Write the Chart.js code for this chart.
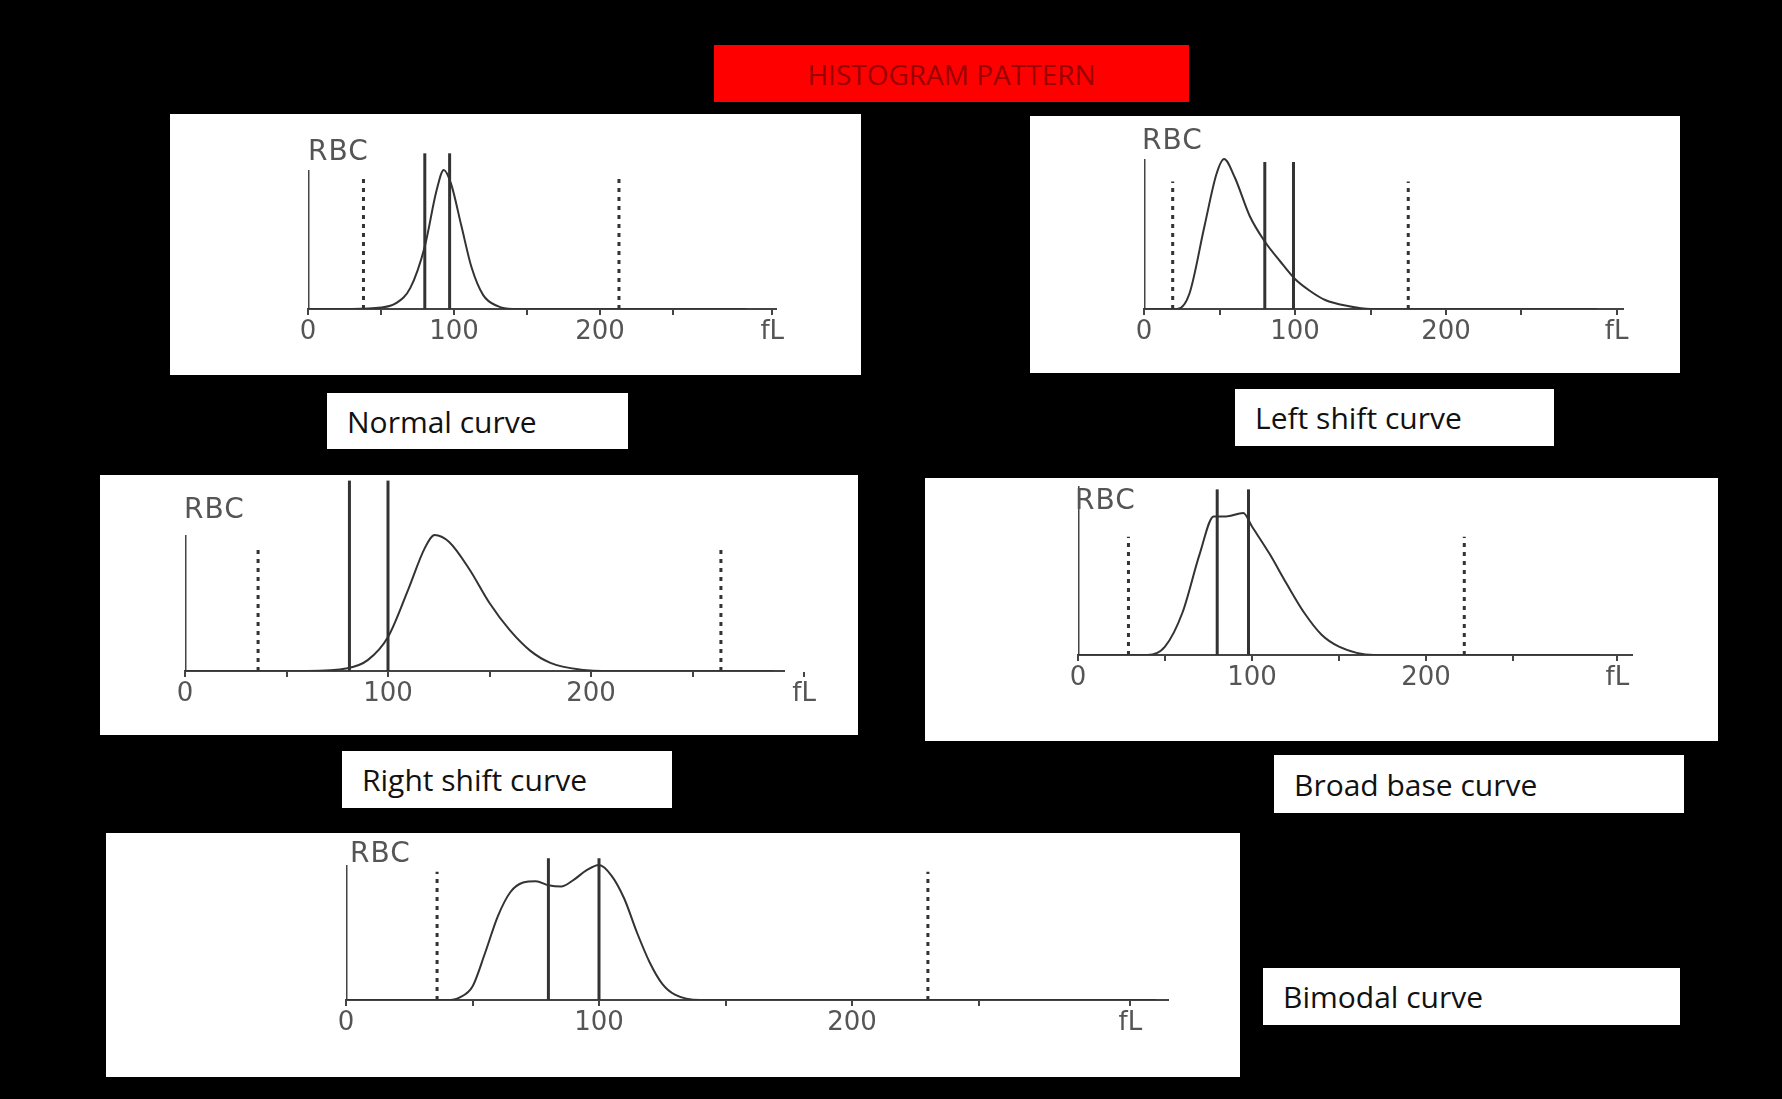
<!DOCTYPE html>
<html><head><meta charset="utf-8">
<script src="https://cdn.jsdelivr.net/npm/chart.js@4"></script>
<style>
body{margin:0;background:#000;width:1782px;height:1099px;overflow:hidden;font-family:"Open Sans",sans-serif;position:relative}
.panel{position:absolute;background:#fff}
.lab{position:absolute;background:#fff;color:#111;font-size:30px;display:flex;align-items:center;padding-left:20px;box-sizing:border-box}
.rbc{position:absolute;font-family:"DejaVu Sans",sans-serif;color:#555;font-size:28px;letter-spacing:1px}
#title{position:absolute;left:714px;top:45px;width:475px;height:57px;background:#f00;color:#900;font-size:28px;display:flex;align-items:center;justify-content:center}
</style></head><body>
<div id="title">HISTOGRAM PATTERN</div>
<script>
// ---- data (x = cell volume in fL, y = relative count) ----
const tickValues = [0, 50, 100, 150, 200, 250];
const tickLabels = ['0', '', '100', '', '200', ''];

const normalX = [0, 30, 50, 60, 70, 80, 88, 93, 98, 105, 112, 120, 130, 140, 300];
const normalY = [0, 0, 1, 4, 15, 45, 85, 100, 90, 60, 30, 10, 2, 0, 0];
const normalDashed = [38, 213];
const normalSolid = [80, 97];

const leftX = [0, 22, 30, 40, 48, 53, 60, 70, 80, 90, 100, 110, 120, 135, 150, 300];
const leftY = [0, 0, 10, 55, 90, 100, 88, 62, 45, 32, 20, 12, 6, 2, 0, 0];
const leftDashed = [19, 175];
const leftSolid = [80, 99];

const rightX = [0, 60, 80, 90, 100, 110, 118, 123, 130, 140, 150, 160, 170, 180, 195, 210, 290];
const rightY = [0, 0, 2, 8, 25, 60, 90, 100, 95, 75, 50, 30, 15, 6, 1, 0, 0];
const rightDashed = [36, 264];
const rightSolid = [81, 100];

const broadX = [0, 40, 50, 60, 70, 78, 85, 95, 100, 110, 120, 130, 140, 150, 170, 300];
const broadY = [0, 0, 5, 25, 60, 82, 82, 84, 76, 60, 42, 25, 12, 5, 0, 0];
const broadDashed = [29, 222];
const broadSolid = [80, 98];

const bimodalX = [0, 40, 45, 50, 55, 60, 65, 70, 75, 80, 85, 90, 95, 100, 105, 110, 115, 120, 125, 130, 140, 320];
const bimodalY = [0, 0, 2, 10, 35, 62, 80, 87, 88, 85, 84, 89, 96, 100, 92, 75, 50, 28, 12, 4, 0, 0];
const bimodalDashed = [36, 230];
const bimodalSolid = [80, 100];

// ---- layout (pixels) ----
const panels = [
 {name:'Normal curve', rect:[170,114,691,261], x0:308, x100:454, axisEnd:776, fLpos:318, base:309, top:170, dashTop:95, solidTop:112,
  label:[327,393,301,56], X:normalX, Y:normalY, dashed:normalDashed, solid:normalSolid, rbc:[308,134]},
 {name:'Left shift curve', rect:[1030,116,650,257], x0:1144, x100:1295, axisEnd:1623, fLpos:313, base:309, top:159, dashTop:85, solidTop:98,
  label:[1235,389,319,57], X:leftX, Y:leftY, dashed:leftDashed, solid:leftSolid, rbc:[1142,123]},
 {name:'Right shift curve', rect:[100,475,758,260], x0:185, x100:388, axisEnd:784, fLpos:305, base:671, top:535, dashTop:90, solidTop:140,
  label:[342,751,330,57], X:rightX, Y:rightY, dashed:rightDashed, solid:rightSolid, rbc:[184,492]},
 {name:'Broad base curve', rect:[925,478,793,263], x0:1078, x100:1252, axisEnd:1632, fLpos:310, base:655, top:486, dashTop:70, solidTop:98,
  label:[1274,755,410,58], X:broadX, Y:broadY, dashed:broadDashed, solid:broadSolid, rbc:[1075,483]},
 {name:'Bimodal curve', rect:[106,833,1134,244], x0:346, x100:599, axisEnd:1168, fLpos:310, base:1000, top:865, dashTop:95, solidTop:105,
  label:[1263,968,417,57], X:bimodalX, Y:bimodalY, dashed:bimodalDashed, solid:bimodalSolid, rbc:[350,836]}
];

const AXIS_H = 40;
panels.forEach(p => {
  const [L,T,W,H] = p.rect;
  const div = document.createElement('div'); div.className='panel';
  Object.assign(div.style,{left:L+'px',top:T+'px',width:W+'px',height:H+'px'});
  const cv = document.createElement('canvas'); div.appendChild(cv);
  document.body.appendChild(div);
  const lab = document.createElement('div'); lab.className='lab'; lab.textContent=p.name;
  Object.assign(lab.style,{left:p.label[0]+'px',top:p.label[1]+'px',width:p.label[2]+'px',height:p.label[3]+'px'});
  document.body.appendChild(lab);
  const r = document.createElement('div'); r.className='rbc'; r.textContent='RBC';
  Object.assign(r.style,{left:p.rbc[0]+'px',top:p.rbc[1]+'px'});
  document.body.appendChild(r);

  const ppf = (p.x100-p.x0)/100;
  const xmax = (p.axisEnd-p.x0)/ppf;
  const padTop = 2;
  const ymax = 100*(p.base-(T+padTop))/(p.base-p.top);
  const ds = [];
  ds.push({data:p.X.map((x,i)=>({x,y:p.Y[i]})),borderColor:'#333',borderWidth:2,tension:0.4,cubicInterpolationMode:'monotone'});
  ds.push({data:[{x:0,y:0},{x:0,y:100}],borderColor:'#444',borderWidth:3});
  p.dashed.forEach(v=>ds.push({data:[{x:v,y:0},{x:v,y:p.dashTop}],borderColor:'#333',borderWidth:3,borderDash:[4,5]}));
  p.solid.forEach(v=>ds.push({data:[{x:v,y:0},{x:v,y:p.solidTop}],borderColor:'#333',borderWidth:3}));
  const tv = tickValues.concat([p.fLpos]);
  const tl = tickLabels.concat(['fL']);
  new Chart(cv,{type:'scatter',data:{datasets:ds.map(d=>Object.assign({showLine:true,pointRadius:0,fill:false},d))},
   options:{responsive:true,maintainAspectRatio:false,animation:false,
    layout:{padding:{left:p.x0-L,right:L+W-p.axisEnd,top:padTop,bottom:L+0*0+(T+H-p.base-AXIS_H)-L}},
    plugins:{legend:{display:false},tooltip:{enabled:false}},
    scales:{
     x:{type:'linear',min:0,max:xmax,
        afterBuildTicks:s=>{s.ticks=tv.map(v=>({value:v}));},
        afterFit:s=>{s.height=AXIS_H;},
        ticks:{autoSkip:false,maxRotation:0,color:'#555',font:{size:26,family:'DejaVu Sans'},padding:2,
               callback:(v)=>{const i=tv.indexOf(v);return i>=0?tl[i]:'';}},
        grid:{drawOnChartArea:false,drawTicks:true,tickLength:6,color:'#444',lineWidth:2},
        border:{display:true,color:'#444',width:2}},
     y:{display:false,min:0,max:ymax}
    }}});
});
</script>
</body></html>
